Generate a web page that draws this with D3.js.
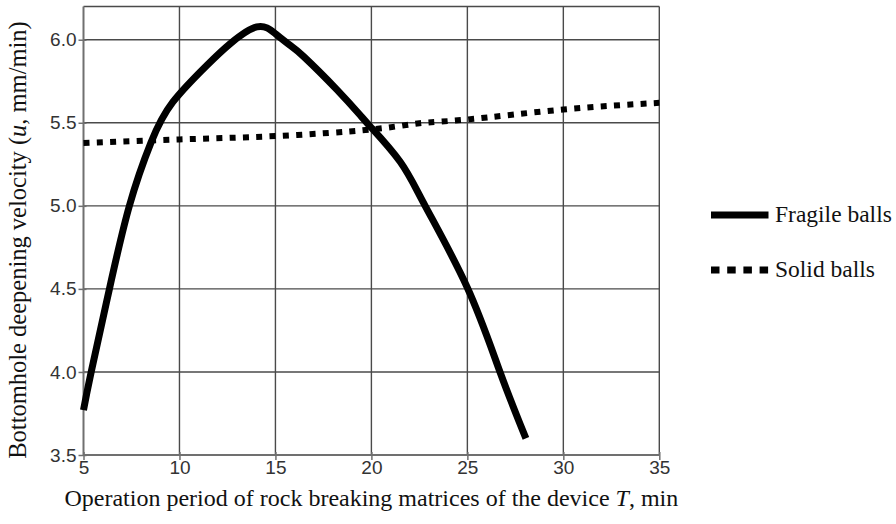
<!DOCTYPE html>
<html>
<head>
<meta charset="utf-8">
<script src="https://cdn.jsdelivr.net/npm/d3@7"></script>
<style>
  html, body { margin: 0; padding: 0; background: #fff; }
  svg { display: block; }
</style>
</head>
<body>
<svg id="chart" width="896" height="524"></svg>
<script>
// ---- data ----
const xTicks = [5, 10, 15, 20, 25, 30, 35];
const yTicks = [3.5, 4.0, 4.5, 5.0, 5.5, 6.0];
const fragileT = [5.0, 5.4, 6.35, 7.39, 8.52, 9.65, 11.42, 12.64, 14.03, 15.0, 15.77, 16.46, 18.2, 19.42, 20.0, 21.5, 22.8, 25.0, 26.7, 28.05];
const fragileU = [3.77, 4.0, 4.5, 5.0, 5.382, 5.624, 5.845, 5.976, 6.077, 6.036, 5.966, 5.90, 5.70, 5.545, 5.47, 5.265, 5.0, 4.507, 4.0, 3.60];
const solidT = [5, 10, 15, 20, 22.5, 25, 30, 35];
const solidU = [5.378, 5.40, 5.42, 5.46, 5.497, 5.52, 5.58, 5.62];
const seriesNames = ["Fragile balls", "Solid balls"];

// ---- layout ----
const svg = d3.select("#chart");
const mLeft = 83.5, mRight = 659.3, mTop = 6.5, mBottom = 455;
const x = d3.scaleLinear().domain([5, 35]).range([mLeft, mRight]);
const y = d3.scaleLinear().domain([3.5, 6.2]).range([mBottom, mTop]);

// grid
const grid = svg.append("g");
grid.selectAll("line.v").data(xTicks.slice(1)).join("line")
  .attr("class", "v")
  .attr("x1", d => x(d)).attr("x2", d => x(d))
  .attr("y1", mTop).attr("y2", mBottom)
  .attr("stroke", "#4a4a4a").attr("stroke-width", 1.4);
grid.selectAll("line.h").data(yTicks.slice(1)).join("line")
  .attr("class", "h")
  .attr("x1", mLeft).attr("x2", mRight)
  .attr("y1", d => y(d)).attr("y2", d => y(d))
  .attr("stroke", "#4a4a4a").attr("stroke-width", 1.4);
grid.append("line").attr("x1", mLeft).attr("x2", mRight).attr("y1", mTop).attr("y2", mTop)
  .attr("stroke", "#4a4a4a").attr("stroke-width", 1.4);

// axes
const xAxis = d3.axisBottom(x).tickValues(xTicks).tickSize(5).tickPadding(1).tickFormat(d3.format("d"));
const yAxis = d3.axisLeft(y).tickValues(yTicks).tickSize(5).tickPadding(2).tickFormat(d3.format(".1f"));
const gx = svg.append("g").attr("transform", `translate(0,${mBottom})`).call(xAxis);
const gy = svg.append("g").attr("transform", `translate(${mLeft},0)`).call(yAxis);
[gx, gy].forEach(g => {
  g.select(".domain").attr("stroke", "#707070").attr("stroke-width", 2);
  g.selectAll(".tick line").attr("stroke", "#707070").attr("stroke-width", 1.5);
  g.selectAll(".tick text").attr("fill", "#333").attr("font-family", "'Liberation Sans', Arial, sans-serif").attr("font-size", 19);
});
gx.selectAll(".tick line").attr("y1", -3);
gy.selectAll(".tick line").attr("x1", 3);
gy.select(".domain").attr("d", `M0,${mTop}V${mBottom}`);
gx.select(".domain").attr("d", `M${mLeft},0H${mRight}`);

// series
const line = d3.line().x(d => x(d[0])).y(d => y(d[1])).curve(d3.curveNatural);
const fragile = fragileT.map((t, i) => [t, fragileU[i]]);
const solid = solidT.map((t, i) => [t, solidU[i]]);

svg.append("path").datum(solid).attr("d", line)
  .attr("fill", "none").attr("stroke", "#000").attr("stroke-width", 6).attr("stroke-dasharray", "6,7.3");
svg.append("path").datum(fragile).attr("d", line)
  .attr("fill", "none").attr("stroke", "#000").attr("stroke-width", 7).attr("stroke-linejoin", "round");

// axis titles
const serif = "'Liberation Serif', 'Times New Roman', serif";
const xt = svg.append("text").attr("x", (mLeft + mRight) / 2).attr("y", 506)
  .attr("text-anchor", "middle").attr("font-family", serif).attr("font-size", 24).attr("fill", "#111");
xt.append("tspan").text("Operation period of rock breaking matrices of the device ");
xt.append("tspan").attr("font-style", "italic").text("T");
xt.append("tspan").text(", min");

const yt = svg.append("text").attr("transform", `translate(26,240) rotate(-90)`)
  .attr("text-anchor", "middle").attr("font-family", serif).attr("font-size", 24.5).attr("fill", "#111");
yt.append("tspan").text("Bottomhole deepening velocity (");
yt.append("tspan").attr("font-style", "italic").text("u");
yt.append("tspan").text(", mm/min)");

// legend
const leg = svg.append("g");
const legY = [215, 270];
const legDash = [null, "8.5,7.7"];
leg.selectAll("line").data(seriesNames).join("line")
  .attr("x1", 711).attr("x2", 768.5)
  .attr("y1", (d, i) => legY[i]).attr("y2", (d, i) => legY[i])
  .attr("stroke", "#000").attr("stroke-width", 7)
  .attr("stroke-dasharray", (d, i) => legDash[i]);
leg.selectAll("text").data(seriesNames).join("text")
  .attr("x", 775).attr("y", (d, i) => legY[i] + 7)
  .attr("font-family", serif).attr("font-size", 23.5).attr("fill", "#111")
  .text(d => d);
</script>
</body>
</html>
